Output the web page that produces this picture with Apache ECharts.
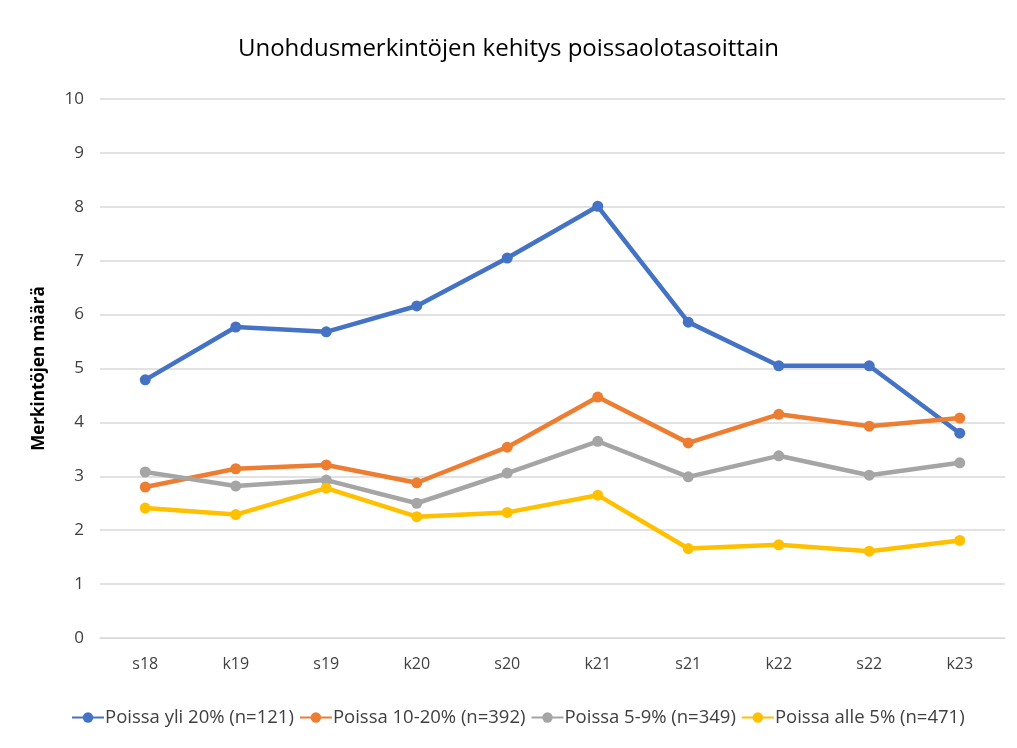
<!DOCTYPE html>
<html>
<head>
<meta charset="utf-8">
<script src="https://cdn.jsdelivr.net/npm/echarts@6/dist/echarts.min.js"></script>
<style>
  html,body{margin:0;padding:0;background:#fff;}
  #box{width:1017px;height:748px;}
</style>
</head>
<body>
<div id="box"></div>
<script>
var kaudet=['s18','k19','s19','k20','s20','k21','s21','k22','s22','k23'];
var yli20=[4.79,5.77,5.68,6.16,7.05,8.01,5.86,5.05,5.05,3.80];
var p10_20=[2.80,3.14,3.21,2.88,3.54,4.47,3.62,4.15,3.93,4.08];
var p5_9=[3.08,2.82,2.93,2.50,3.06,3.65,2.99,3.38,3.02,3.25];
var alle5=[2.41,2.29,2.78,2.25,2.33,2.65,1.66,1.73,1.61,1.81];
var nimet=['Poissa yli 20% (n=121)','Poissa 10-20% (n=392)','Poissa 5-9% (n=349)','Poissa alle 5% (n=471)'];
var varit=['#4472C4','#ED7D31','#A5A5A5','#FFC000'];

var fontti='"Open Sans", "Liberation Sans", sans-serif';

function sarja(nimi,data){
  return {
    name:nimi,
    type:'line',
    data:data,
    symbol:'circle',
    symbolSize:11,
    lineStyle:{width:4.5},
    emphasis:{disabled:true}
  };
}

var mychart=echarts.init(document.getElementById('box'));
mychart.setOption({
  backgroundColor:'#fff',
  color:varit,
  animation:false,
  title:{
    text:'Unohdusmerkintöjen kehitys poissaolotasoittain',
    left:'center',
    top:32,
    textStyle:{color:'#000',fontSize:24,fontWeight:'normal',fontFamily:fontti}
  },
  legend:{
    bottom:16,
    left:66,
    itemGap:5,
    itemWidth:32,
    itemHeight:13,
    textStyle:{color:'#404040',fontSize:18.5,fontFamily:fontti,padding:[0,0,0,-4]},
    data:nimet
  },
  grid:{left:100,right:12,top:99,bottom:110,containLabel:false},
  xAxis:{
    type:'category',
    data:kaudet,
    axisLine:{lineStyle:{color:'#d9d9d9'}},
    axisTick:{show:false},
    axisLabel:{color:'#404040',fontSize:16,fontFamily:fontti,margin:18}
  },
  yAxis:{
    type:'value',
    min:0,
    max:10,
    interval:1,
    name:'Merkintöjen määrä',
    nameLocation:'middle',
    nameGap:52,
    nameTextStyle:{color:'#000',fontSize:17,fontWeight:'bold',fontFamily:fontti},
    axisLine:{show:false},
    axisTick:{show:false},
    axisLabel:{color:'#404040',fontSize:17,fontFamily:fontti,margin:16},
    splitLine:{lineStyle:{color:'#d9d9d9',width:1.5}}
  },
  series:[
    sarja(nimet[0],yli20),
    sarja(nimet[1],p10_20),
    sarja(nimet[2],p5_9),
    sarja(nimet[3],alle5)
  ]
});
</script>
</body>
</html>
